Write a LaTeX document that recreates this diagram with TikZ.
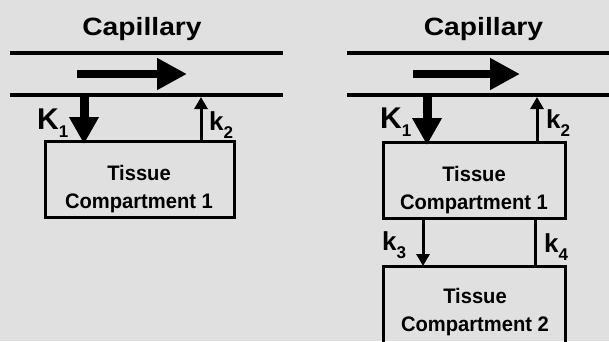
\documentclass[tikz,border=0pt]{standalone}
\usepackage{fontspec}
\setmainfont{Liberation Sans}
\usetikzlibrary{arrows.meta}
\definecolor{bgc}{gray}{0.88}
\newcommand{\subs}[1]{\raisebox{-8pt}{\fontsize{17}{17}\selectfont #1}}
\begin{document}
\begin{tikzpicture}[x=1pt,y=-1pt,
 wall/.style={line width=4.5pt},
 flow/.style={line width=8pt,-{Triangle[length=30pt,width=30pt]}},
 influx/.style={line width=9pt,-{Triangle[length=27pt,width=28pt]},shorten >=-3pt},
 rate/.style={line width=3pt,-{Triangle[length=12pt,width=13pt]}},
 plainline/.style={line width=3pt},
 comp/.style={draw,line width=3pt,inner sep=0pt,outer sep=0pt},
 captext/.style={font=\fontsize{25}{25}\selectfont\bfseries,inner sep=0pt,anchor=base},
 boxtext/.style={font=\fontsize{21}{21}\selectfont\bfseries,inner sep=0pt,anchor=base},
 biglab/.style={font=\fontsize{30}{30}\selectfont\bfseries,inner sep=0pt,anchor=base west},
 smalllab/.style={font=\fontsize{26}{26}\selectfont\bfseries,inner sep=0pt,anchor=base west}]
\clip (0,0) rectangle (609,341);
\fill[bgc] (0,0) rectangle (609,341);
\useasboundingbox (0,0) rectangle (609,341);

% ---------- left panel ----------
\node[captext] (capL) at (142,35) {\scalebox{1.13}[1]{Capillary}};
\coordinate (wLta) at (10,53);  \coordinate (wLtb) at (283,53);
\coordinate (wLba) at (10,95);  \coordinate (wLbb) at (283,95);
\draw[wall] (wLta) -- (wLtb);
\draw[wall] (wLba) -- (wLbb);
\coordinate (fLa) at (77,74); \coordinate (fLb) at (187,74);
\draw[flow] (fLa) -- (fLb);
\node[comp, minimum width=189pt, minimum height=76pt] (boxL) at (139.5,179) {};
\node[boxtext] (tL1) at (139,180) {\scalebox{0.96}[1]{Tissue}};
\node[boxtext] (tL2) at (139,208) {\scalebox{0.96}[1]{Compartment 1}};
\coordinate (kLone) at (84,97);
\coordinate (kLtwo) at (201,97);
\draw[influx] (kLone) -- (kLone |- boxL.north);
\draw[rate] (boxL.north -| kLtwo) -- (kLtwo);
\node[biglab] (lK1L) at (37,129) {K\subs{1}};
\node[smalllab] (lk2L) at (209,130) {k\subs{2}};

% ---------- right panel ----------
\node[captext] (capR) at (483.5,35) {\scalebox{1.13}[1]{Capillary}};
\coordinate (wRta) at (347,53);  \coordinate (wRtb) at (612,53);
\coordinate (wRba) at (347,95);  \coordinate (wRbb) at (612,95);
\draw[wall] (wRta) -- (wRtb);
\draw[wall] (wRba) -- (wRbb);
\coordinate (fRa) at (413,74); \coordinate (fRb) at (520,74);
\draw[flow] (fRa) -- (fRb);
\node[comp, minimum width=182pt, minimum height=76pt] (boxR1) at (474,180) {};
\node[boxtext] (tR1) at (474,181) {\scalebox{0.96}[1]{Tissue}};
\node[boxtext] (tR2) at (474,209) {\scalebox{0.96}[1]{Compartment 1}};
\node[comp, minimum width=182pt, minimum height=90pt] (boxR2) at (474,311) {};
\node[boxtext] (tR3) at (475,303) {\scalebox{0.96}[1]{Tissue}};
\node[boxtext] (tR4) at (475,331) {\scalebox{0.96}[1]{Compartment 2}};
\coordinate (kRone) at (427,97);
\coordinate (kRtwo) at (537,97);
\draw[influx] (kRone) -- (kRone |- boxR1.north);
\draw[rate] (boxR1.north -| kRtwo) -- (kRtwo);
\coordinate (kRthree) at (423,218);
\coordinate (kRfour) at (535,218);
\draw[rate] (kRthree) -- (kRthree |- boxR2.north);
\draw[plainline] (boxR2.north -| kRfour) -- (kRfour);
\node[biglab] (lK1R) at (380,128) {K\subs{1}};
\node[smalllab] (lk2R) at (546,128) {k\subs{2}};
\node[smalllab] (lk3R) at (382,250) {k\subs{3}};
\node[smalllab] (lk4R) at (544,252) {k\subs{4}};
\end{tikzpicture}
\end{document}
